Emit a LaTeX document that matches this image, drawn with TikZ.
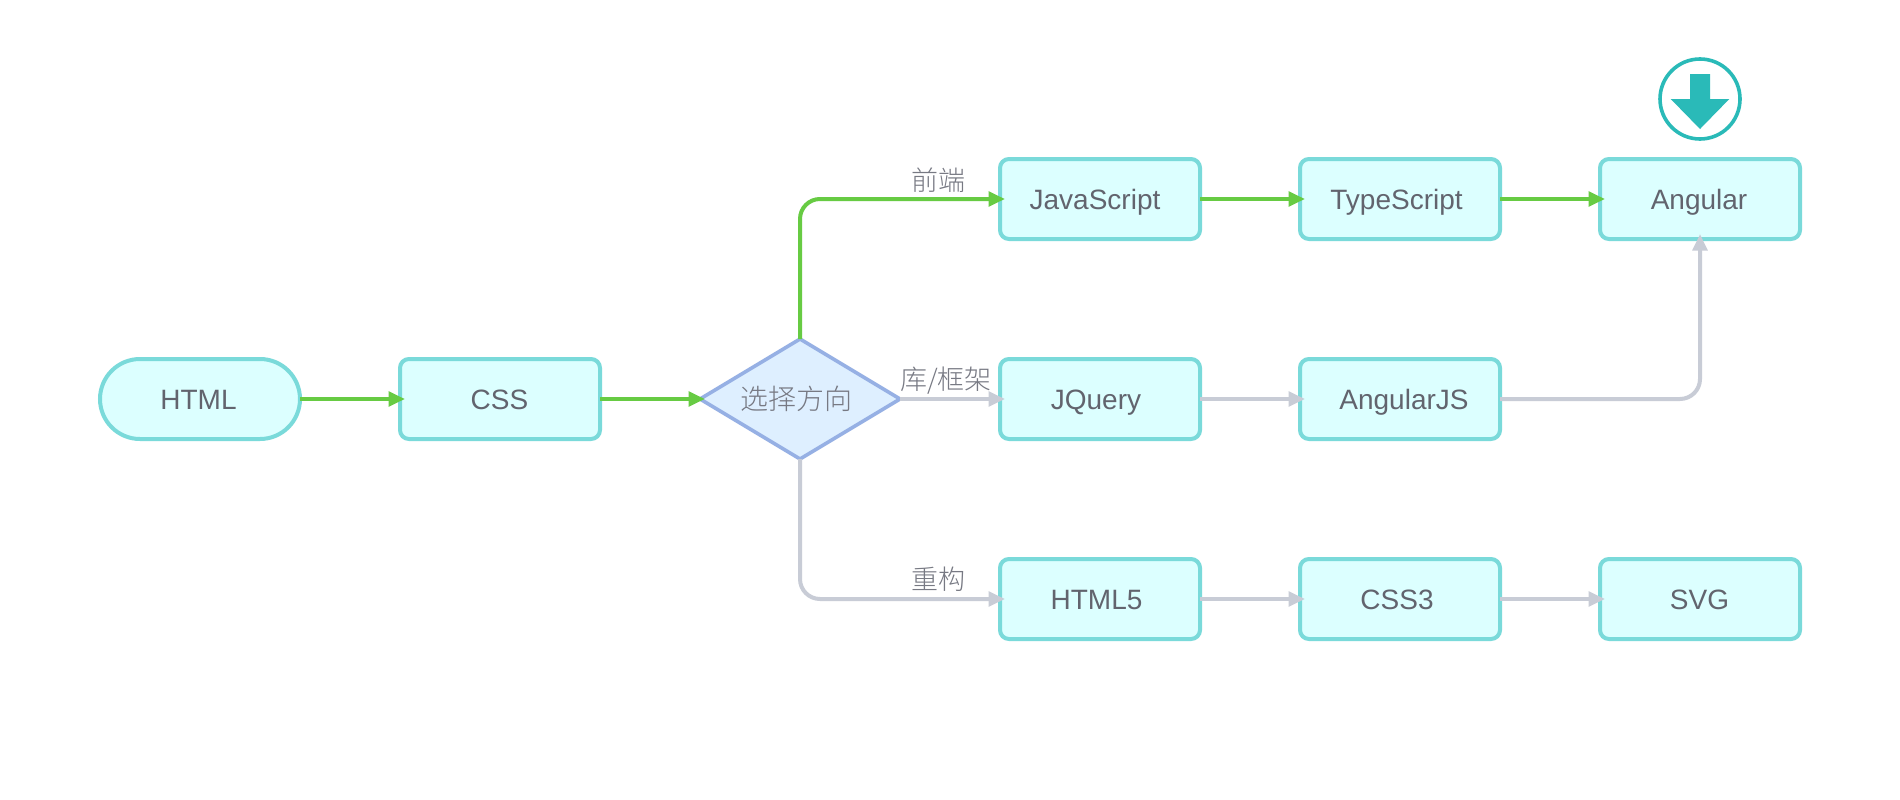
\documentclass[tikz,border=0pt]{standalone}
\usepackage{fontspec}
\setmainfont{Liberation Sans}
\newfontfamily\cjk{Noto Sans CJK SC Light}
\usetikzlibrary{shapes.geometric,arrows.meta}
\definecolor{boxfill}{HTML}{DCFFFF}
\definecolor{boxline}{HTML}{7ADADA}
\definecolor{dirfill}{HTML}{DEEFFF}
\definecolor{dirline}{HTML}{96B0E4}
\definecolor{okline}{HTML}{67CB43}
\definecolor{offline}{HTML}{C8CCD6}
\definecolor{txt}{HTML}{62646E}
\definecolor{lbl}{HTML}{777983}
\definecolor{icon}{HTML}{2ABAB8}
\tikzset{
  base/.style={draw=boxline,fill=boxfill,line width=4pt,minimum width=200pt,minimum height=80pt,inner sep=0pt,outer sep=0pt,text=txt,text height=20pt,text depth=0pt,font=\fontsize{28}{30}\selectfont},
  box/.style={base,rectangle,rounded corners=9pt},
  pill/.style={base,rectangle,rounded corners=40pt},
  choice/.style={diamond,draw=dirline,fill=dirfill,line width=3.6pt,minimum width=200pt,minimum height=120pt,aspect=1.667,inner sep=0pt,outer sep=0pt,text=lbl,font=\cjk\fontsize{28}{30}\selectfont},
  edge on/.style={draw=okline,line width=4pt,-{Triangle[length=16.5pt,width=14.5pt]},shorten >=-5pt,rounded corners=20pt},
  edge off/.style={draw=offline,line width=4pt,-{Triangle[length=16.5pt,width=14.5pt]},shorten >=-5pt,rounded corners=20pt},
  tag/.style={text=lbl,inner sep=0pt,font=\cjk\fontsize{27}{30}\selectfont},
}
\begin{document}
\begin{tikzpicture}[x=1pt,y=-1pt]
\useasboundingbox (0,0) rectangle (1900,800);
\fill[white] (0,0) rectangle (1900,800);
\node[pill] (html) at (200,399) {\kern-3pt HTML};
\node[box] (css) at (500,399) {\kern-1pt CSS};
\node[choice] (dir) at (800,399) {\kern-8pt 选择方向};
\node[box] (js) at (1100,199) {\kern-10pt JavaScript};
\node[box] (ts) at (1400,199) {\kern-7pt TypeScript};
\node[box] (ang) at (1700,199) {\kern-2pt Angular};
\node[box] (jq) at (1100,399) {\kern-8pt JQuery};
\node[box] (ajs) at (1400,399) {\kern8pt AngularJS};
\node[box] (h5) at (1100,599) {\kern-7pt HTML5};
\node[box] (css3) at (1400,599) {\kern-6pt CSS3};
\node[box] (svg) at (1700,599) {\kern-1pt SVG};
\draw[edge on] (html.east) -- (css.west);
\draw[edge on] (css.east) -- (dir.west);
\draw[edge on] (dir.north) |- (js.west);
\draw[edge on] (js.east) -- (ts.west);
\draw[edge on] (ts.east) -- (ang.west);
\draw[edge off] (dir.east) -- (jq.west);
\draw[edge off] (jq.east) -- (ajs.west);
\draw[edge off] (ajs.east) -| (ang.south);
\draw[edge off] (dir.south) |- (h5.west);
\draw[edge off] (h5.east) -- (css3.west);
\draw[edge off] (css3.east) -- (svg.west);
\node[tag] (t1) at (938,180) {前端};
\node[tag] (t2) at (946,381) {库/框架};
\node[tag] (t3) at (938,579) {重构};
\node[circle,draw=icon,line width=3.6pt,minimum size=80pt,inner sep=0pt,outer sep=0pt] (dl) at (1700,99) {};
\fill[icon] (1690,74) -- (1710,74) -- (1710,99) -- (1729.3,99) -- (1700,129) -- (1670.7,99) -- (1690,99) -- cycle;
\end{tikzpicture}
\end{document}
